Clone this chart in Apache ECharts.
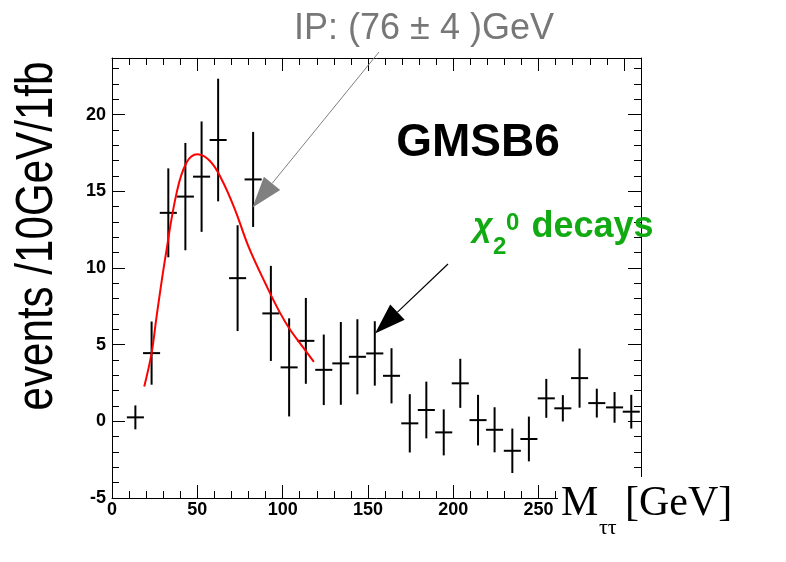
<!DOCTYPE html>
<html><head><meta charset="utf-8">
<script src="https://cdn.jsdelivr.net/npm/echarts@6/dist/echarts.min.js"></script>
<style>html,body{margin:0;padding:0;background:#fff}#c{width:786px;height:562px}</style>
</head><body><div id="c"></div>
<script>
// ---- data ----
const xCenters = [13.7, 23.2, 33, 43, 52.5, 62.2, 73.6, 82.7, 93.1, 103.8, 113.6, 124.1, 134.1, 143.8, 154, 163.8, 174.5, 184.2, 194.4, 204.1, 214.5, 224.2, 234.6, 244.3, 254.5, 264.2, 274, 284.1, 294.5, 304.3];
const events = [0.26, 4.45, 13.6, 14.66, 15.96, 18.35, 9.34, 15.78, 7.04, 3.52, 5.25, 3.36, 3.78, 4.21, 4.43, 2.97, -0.13, 0.74, -0.72, 2.48, 0.08, -0.55, -1.92, -1.15, 1.5, 0.85, 2.82, 1.19, 0.91, 0.63];
const errors = [0.78, 2.06, 2.9, 3.5, 3.6, 4.0, 3.45, 3.1, 3.1, 3.2, 2.8, 2.3, 2.7, 2.45, 2.1, 1.8, 1.9, 1.85, 1.5, 1.6, 1.65, 1.47, 1.45, 1.46, 1.27, 0.86, 1.93, 0.94, 1.0, 1.1];
const binHalfWidth = 5;
const fitX = [18.9, 23.2, 26.2, 31.4, 37.9, 43.7, 50, 57.4, 64.2, 72, 80, 90.6, 98.4, 104.2, 112, 118.3];
const fitY = [2.28, 4.45, 6.9, 10.79, 14.92, 16.88, 17.42, 16.98, 15.79, 13.83, 11.4, 8.83, 7.09, 6.01, 4.82, 3.88];
const xTicks = [0, 50, 100, 150, 200, 250, 300];
const yTicks = [-5, 0, 5, 10, 15, 20];

const chart = echarts.init(document.getElementById('c'), null, {renderer: 'canvas'});

const SANS = '"Liberation Sans", Arial, sans-serif';
const SERIF = '"Liberation Serif", "Times New Roman", serif';

function axisBase(extra) {
  return Object.assign({
    type: 'value',
    axisLine: {show: true, onZero: false, lineStyle: {color: '#000', width: 1}},
    axisTick: {show: true, inside: true, length: 13, lineStyle: {color: '#000', width: 1}},
    minorTick: {show: true, splitNumber: 5, length: 7, lineStyle: {color: '#000', width: 1}},
    splitLine: {show: false},
    minorSplitLine: {show: false}
  }, extra);
}
const labelStyle = {fontSize: 18, fontWeight: 'bold', color: '#000', fontFamily: SANS};

function arrow(x1, y1, x2, y2, color, lw) {
  const dx = x2 - x1, dy = y2 - y1, len = Math.hypot(dx, dy);
  const ux = dx / len, uy = dy / len;
  const L = 31, W = 10.5;
  const bx = x2 - L * ux, by = y2 - L * uy;
  const nx = -uy, ny = ux;
  return [
    {type: 'line', z: 20, shape: {x1: x1, y1: y1, x2: bx, y2: by}, style: {stroke: color, lineWidth: lw}},
    {type: 'polygon', z: 20, shape: {points: [[x2, y2], [bx + W * nx, by + W * ny], [bx - W * nx, by - W * ny]]}, style: {fill: color}}
  ];
}

const option = {
  animation: false,
  backgroundColor: '#fff',
  grid: {left: 112, right: 145, top: 58, bottom: 64, containLabel: false},
  xAxis: [
    axisBase({min: 0, max: 310, interval: 50, position: 'bottom',
      axisLabel: Object.assign({show: true, margin: 3, formatter: v => xTicks.includes(v) ? String(v) : ''}, labelStyle)}),
    axisBase({min: 0, max: 310, interval: 50, position: 'top', axisLabel: {show: false}})
  ],
  yAxis: [
    axisBase({min: -5, max: 23.7, interval: 5, position: 'left',
      axisLabel: Object.assign({show: true, margin: 6, formatter: v => yTicks.includes(v) ? String(v) : ''}, labelStyle)}),
    axisBase({min: -5, max: 23.7, interval: 5, position: 'right', axisLabel: {show: false}})
  ],
  series: [
    {
      type: 'custom',
      xAxisIndex: 0, yAxisIndex: 0,
      data: xCenters.map((x, i) => [x, events[i], errors[i]]),
      encode: {x: 0, y: 1},
      renderItem: function (params, api) {
        const x = api.value(0), y = api.value(1), e = api.value(2);
        const top = api.coord([x, y + e]);
        const bot = api.coord([x, y - e]);
        const l = api.coord([x - binHalfWidth, y]);
        const r = api.coord([x + binHalfWidth, y]);
        return {
          type: 'group',
          children: [
            {type: 'line', shape: {x1: top[0], y1: top[1], x2: bot[0], y2: bot[1]}, style: {stroke: '#000', lineWidth: 2}},
            {type: 'line', shape: {x1: l[0], y1: l[1], x2: r[0], y2: r[1]}, style: {stroke: '#000', lineWidth: 2}}
          ]
        };
      }
    },
    {
      type: 'line',
      xAxisIndex: 0, yAxisIndex: 0,
      data: fitX.map((x, i) => [x, fitY[i]]),
      showSymbol: false,
      smooth: 0.4,
      lineStyle: {color: '#ff0000', width: 2},
      z: 5
    }
  ],
  graphic: [
    {type: 'rect', z: 10, shape: {x: 558, y: 477, width: 200, height: 72}, style: {fill: '#fff'}},
    {type: 'text', z: 11, x: 561, y: 504, style: {text: 'M', font: '42px ' + SERIF, fill: '#000', align: 'left', verticalAlign: 'middle'}},
    {type: 'text', z: 11, x: 599, y: 528, style: {text: 'ττ', font: '22px ' + SERIF, fill: '#000', align: 'left', verticalAlign: 'middle'}},
    {type: 'text', z: 11, x: 625, y: 504, style: {text: '[GeV]', font: '42px ' + SERIF, fill: '#000', align: 'left', verticalAlign: 'middle'}},
    {type: 'text', z: 11, x: 38, y: 236, rotation: Math.PI / 2, scaleX: 0.81, scaleY: 1,
      style: {text: 'events /10GeV/1fb', font: '52px ' + SANS, fill: '#000', align: 'center', verticalAlign: 'middle'}},
    {type: 'text', z: 11, x: 424, y: 29, style: {text: 'IP: (76 ± 4 )GeV', font: '36px ' + SANS, fill: '#777', align: 'center', verticalAlign: 'middle'}},
    {type: 'text', z: 11, x: 478, y: 143, style: {text: 'GMSB6', font: 'bold 46px ' + SANS, fill: '#000', align: 'center', verticalAlign: 'middle'}},
    {type: 'text', z: 11, x: 473, y: 227, style: {text: 'χ', font: 'italic bold 34px ' + SANS, fill: '#12aa12', align: 'left', verticalAlign: 'middle'}},
    {type: 'text', z: 11, x: 493, y: 247, style: {text: '2', font: 'bold 24px ' + SANS, fill: '#12aa12', align: 'left', verticalAlign: 'middle'}},
    {type: 'text', z: 11, x: 506, y: 223.5, style: {text: '0', font: 'bold 24px ' + SANS, fill: '#12aa12', align: 'left', verticalAlign: 'middle'}},
    {type: 'text', z: 11, x: 531.5, y: 227, style: {text: 'decays', font: 'bold 36px ' + SANS, fill: '#12aa12', align: 'left', verticalAlign: 'middle'}}
  ].concat(arrow(379, 52, 252.5, 207.5, '#808080', 1))
   .concat(arrow(448, 264, 375, 333.5, '#000', 1.2))
};
chart.setOption(option);
</script>
</body></html>
